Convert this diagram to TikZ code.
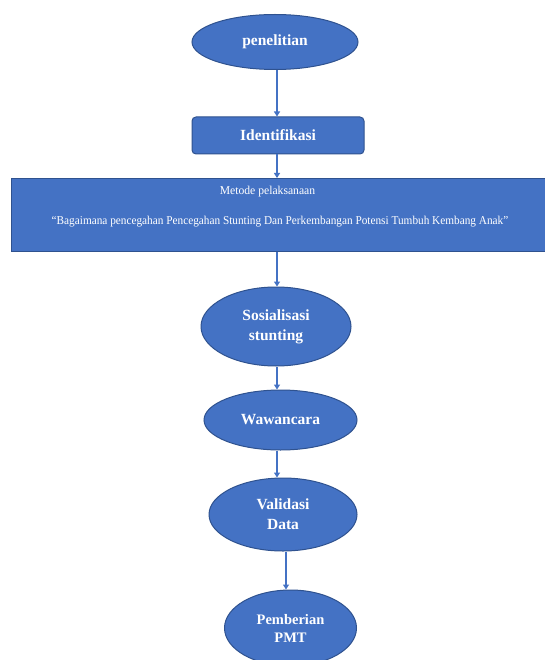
\documentclass[tikz,border=0pt]{standalone}
\usepackage{fontspec}
\setmainfont{Liberation Serif}
\usetikzlibrary{shapes.geometric,arrows.meta}
\definecolor{fillblue}{HTML}{4472C4}
\definecolor{edgeblue}{HTML}{2F528F}
\tikzset{
  x=1pt,y=-1pt,
  oval/.style={ellipse,draw=edgeblue,line width=1pt,fill=fillblue,text=white,font=\bfseries\fontsize{15.5}{20}\selectfont,align=center,inner sep=0pt},
  boxnode/.style={rectangle,draw=edgeblue,line width=1pt,fill=fillblue,text=white,font=\bfseries\fontsize{15.5}{20}\selectfont,align=center,inner sep=0pt},
  link/.style={draw=fillblue,line width=1.1pt,-{Triangle[length=5pt,width=6pt]}}
}
\begin{document}
\begin{tikzpicture}
\useasboundingbox (0,0) rectangle (545,660);
\clip (0,0) rectangle (545,660);
\fill[white] (0,0) rectangle (545,660);
\node[oval,minimum width=166pt,minimum height=55pt] (pen) at (275,42) {penelitian};
\node[boxnode,rounded corners=4pt,minimum width=172pt,minimum height=37pt] (ide) at (278,135.5) {Identifikasi};
\node[boxnode,line width=1.3pt,minimum width=545pt,minimum height=73pt,anchor=north west] (met) at (11,178) {};
\node[text=white,font=\fontsize{12}{14}\selectfont] (t1) at (267.5,192) {\scalebox{0.97}[1]{Metode pelaksanaan}};
\node[text=white,font=\fontsize{12}{14}\selectfont] (t2) at (280,222) {\scalebox{0.94}[1]{“Bagaimana pencegahan Pencegahan Stunting Dan Perkembangan Potensi Tumbuh Kembang Anak”}};
\node[oval,minimum width=150pt,minimum height=79pt] (sos) at (276,326.5) {Sosialisasi\\stunting};
\node[oval,minimum width=153pt,minimum height=60pt] (waw) at (280.5,420) {Wawancara};
\node[oval,minimum width=148pt,minimum height=73pt] (val) at (283,514.5) {Validasi\\Data};
\node[oval,minimum width=132pt,minimum height=76pt,font=\bfseries\fontsize{14.5}{18}\selectfont] (pmt) at (290.5,628) {Pemberian\\PMT};
\draw[link] (pen.south -| 277,0) -- (ide.north -| 277,0);
\draw[link] (ide.south -| 277,0) -- (met.north -| 277,0);
\draw[link] (met.south -| 277,0) -- (sos.north -| 277,0);
\draw[link] (sos.south -| 277,0) -- (waw.north -| 277,0);
\draw[link] (waw.south -| 277,0) -- (val.north -| 277,0);
\draw[link] (val.south -| 286,0) -- (pmt.north -| 286,0);
\end{tikzpicture}
\end{document}
